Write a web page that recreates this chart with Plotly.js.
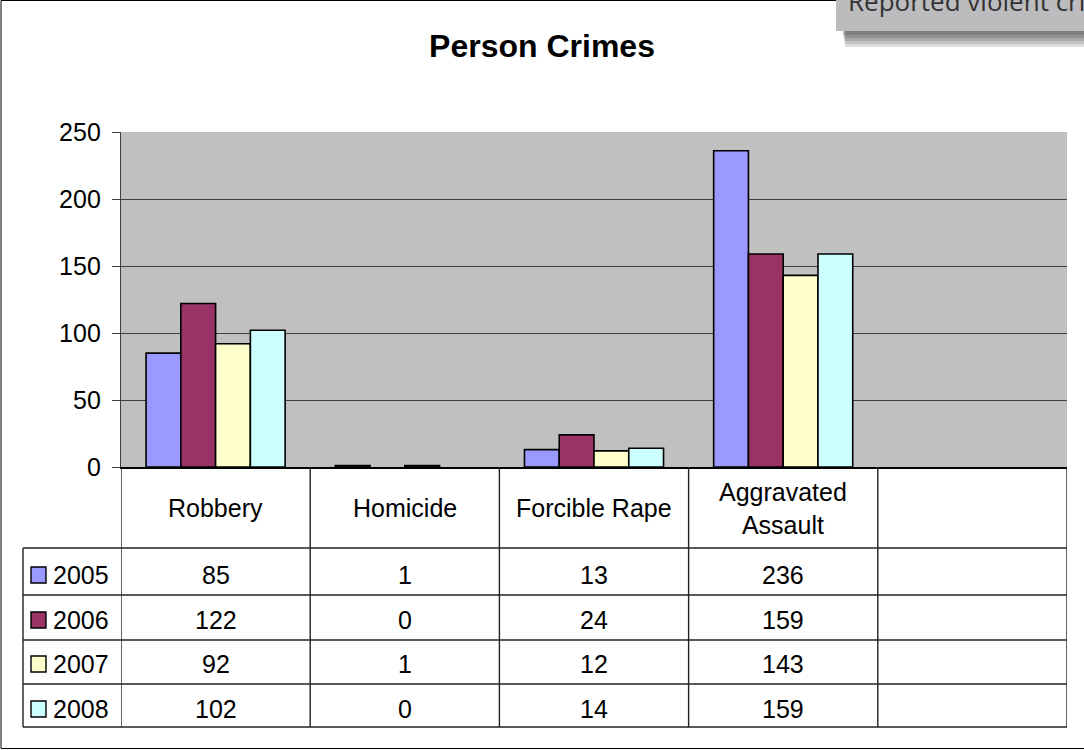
<!DOCTYPE html>
<html>
<head>
<meta charset="utf-8">
<script src="https://cdn.plot.ly/plotly-3.0.1.min.js"></script>
<style>
html,body{margin:0;padding:0;background:#fff;}
#chart{width:1084px;height:750px;}
</style>
</head>
<body>
<div id="chart"></div>
<script>
// ---- data ----
const categories = ['Robbery', 'Homicide', 'Forcible Rape', 'Aggravated Assault'];
const categoryLabels = ['Robbery', 'Homicide', 'Forcible Rape', 'Aggravated<br>Assault'];
const years = ['2005', '2006', '2007', '2008'];
const values2005 = [85, 1, 13, 236];
const values2006 = [122, 0, 24, 159];
const values2007 = [92, 1, 12, 143];
const values2008 = [102, 0, 14, 159];
const seriesValues = [values2005, values2006, values2007, values2008];
const seriesColors = ['#9999FF', '#993366', '#FFFFCC', '#CCFFFF'];
const yTicks = [0, 50, 100, 150, 200, 250];

// ---- geometry ----
const W = 1084, H = 750;
const L = 121, R = 1067, T = 132, B = 467;
const FONT = 'Arial, "Liberation Sans", sans-serif';
const px = x => (x - L) / (R - L);          // pixel x -> paper
const py = y => (B - y) / (B - T);          // pixel y -> paper
const nCols = 5;                            // 4 categories + empty column
const xIdx = categories.map((c, i) => i);

const traces = years.map((yr, s) => ({
  type: 'bar',
  name: yr,
  x: xIdx,
  y: seriesValues[s],
  marker: { color: seriesColors[s],
    line: { color: '#000', width: seriesValues[s].map(v => v === 0 ? 0 : 1.6) } },
  hoverinfo: 'skip'
}));

const shapes = [];
const annotations = [];
const lineCol = '#222';

// outer chart border
shapes.push({type:'rect', xref:'paper', yref:'paper', x0: px(1), x1: px(1100), y0: py(0.5), y1: py(748.5),
  line:{color:'#000', width:1}, fillcolor:'rgba(0,0,0,0)', layer:'below'});

// table rows
const rowLines = [548, 595, 640, 684, 727];
const rowCenters = [575, 620, 664, 709];
rowLines.forEach(y => shapes.push({type:'line', xref:'paper', yref:'paper',
  x0: px(23), x1: px(R), y0: py(y), y1: py(y), line:{color:lineCol, width:1.4}}));
// vertical column lines (category boundaries)
for (let k = 0; k <= nCols; k++) {
  shapes.push({type:'line', xref:'x', yref:'paper', x0: k - 0.5, x1: k - 0.5,
    y0: py(B), y1: py(727), line:{color:lineCol, width:1.4}});
}
// legend column left border
shapes.push({type:'line', xref:'paper', yref:'paper', x0: px(23), x1: px(23),
  y0: py(548), y1: py(727), line:{color:lineCol, width:1.4}});

// header labels
categoryLabels.forEach((lab, i) => annotations.push({
  xref:'x', yref:'paper', x: i, y: py(508), text: lab, showarrow:false,
  xanchor:'center', yanchor:'middle', align:'center',
  font:{family:FONT, size:25, color:'#000'}
}));

// legend keys + year labels + values
years.forEach((yr, s) => {
  const yc = rowCenters[s];
  shapes.push({type:'rect', xref:'paper', yref:'paper', x0: px(31), x1: px(46),
    y0: py(yc - 8), y1: py(yc + 8), fillcolor: seriesColors[s], line:{color:'#000', width:1.4}});
  annotations.push({xref:'paper', yref:'paper', x: px(51), y: py(yc), text: yr, showarrow:false,
    xanchor:'left', yanchor:'middle', font:{family:FONT, size:25, color:'#000'}});
  seriesValues[s].forEach((v, i) => annotations.push({
    xref:'x', yref:'paper', x: i, y: py(yc), text: String(v), showarrow:false,
    xanchor:'center', yanchor:'middle', font:{family:FONT, size:25, color:'#000'}
  }));
});

// top-right overlay box with soft shadow
[4, 7, 10, 13, 16].forEach(d => {
  shapes.push({type:'rect', xref:'paper', yref:'paper', x0: px(842 + d * 0.2), x1: px(1100),
    y0: py(31 + d), y1: py(20), fillcolor:'rgba(0,0,0,0.13)', line:{width:0}});
});
shapes.push({type:'rect', xref:'paper', yref:'paper', x0: px(836), x1: px(1100),
  y0: py(31), y1: py(-20), fillcolor:'#bcbcbe', line:{width:0}});
annotations.push({xref:'paper', yref:'paper', x: px(846), y: py(1), text:'Reported violent crime',
  showarrow:false, xanchor:'left', yanchor:'middle',
  font:{family:'"Open Sans", sans-serif', size:26, color:'#333'}});

const layout = {
  width: W, height: H,
  margin: {l: L, r: W - R, t: T, b: H - B, pad: 0},
  paper_bgcolor: 'rgba(0,0,0,0)',
  plot_bgcolor: '#c0c0c0',
  showlegend: false,
  barmode: 'group',
  bargap: 0.265,
  bargroupgap: 0,
  title: {text: '<b>Person Crimes</b>', x: 0.5, xref: 'container', xanchor: 'center',
    y: 1 - 46 / H, yref: 'container', yanchor: 'middle',
    font: {family: FONT, size: 32, color: '#000'}},
  xaxis: {range: [-0.5, nCols - 0.5], showticklabels: false, ticks: '', showgrid: false,
    zeroline: false, showline: true, linecolor: '#000', linewidth: 1.5, fixedrange: true},
  yaxis: {range: [0, 250], tickvals: yTicks, ticktext: yTicks.map(String), ticks: 'outside', ticklen: 8,
    tickcolor: '#404040', tickwidth: 1, showline: true, linecolor: '#404040', linewidth: 1.2,
    gridcolor: '#404040', gridwidth: 1, zeroline: false, ticklabelstandoff: 6,
    tickfont: {family: FONT, size: 25, color: '#000'}, fixedrange: true},
  shapes: shapes,
  annotations: annotations
};

Plotly.newPlot('chart', traces, layout, {displayModeBar: false, staticPlot: true});
</script>
</body>
</html>
